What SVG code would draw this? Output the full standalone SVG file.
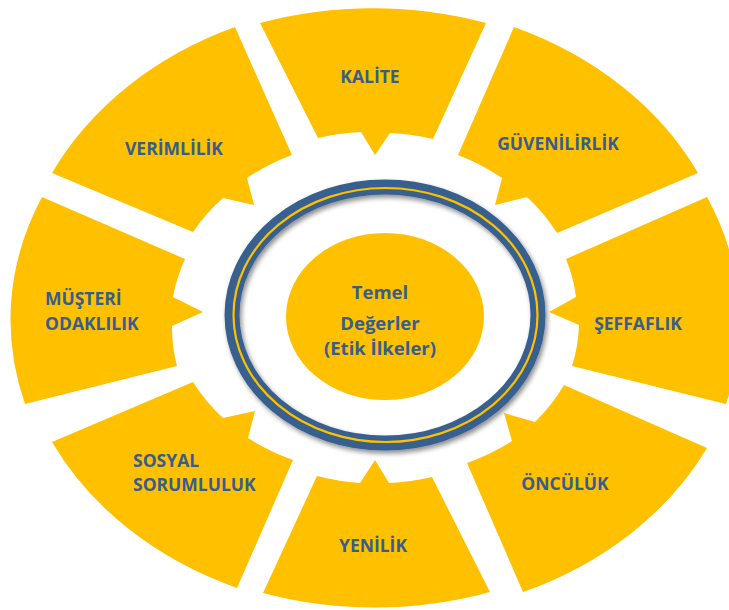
<svg xmlns="http://www.w3.org/2000/svg" width="729" height="610" viewBox="0 0 729 610">
  <defs>
    <style>
      .seg { fill: #FFC000; }
      .lbl { font-family: "Open Sans", "Noto Sans", "DejaVu Sans", sans-serif; font-weight: 700; font-size: 17.5px; fill: #385D8D; }
      .mid { text-anchor: middle; }
      .ctr { font-family: "Open Sans", "Noto Sans", "DejaVu Sans", sans-serif; font-weight: 700; font-size: 18.5px; fill: #385D8D; text-anchor: middle; }
    </style>
    <filter id="shadow" x="-20%" y="-20%" width="140%" height="140%">
      <feGaussianBlur in="SourceAlpha" stdDeviation="2.5"/>
      <feOffset dx="2" dy="3" result="b"/>
      <feComponentTransfer><feFuncA type="linear" slope="0.45"/></feComponentTransfer>
      <feMerge><feMergeNode/><feMergeNode in="SourceGraphic"/></feMerge>
    </filter>
  </defs>
  <rect width="729" height="610" fill="#FFFFFF"/>

  <g id="kalite">
    <path class="seg" d="M 260 23 A 365 302 0 0 1 486 23 L 433 139 A 205 174 0 0 0 390 133 L 375 155 L 361 132 A 205 174 0 0 0 318 138 Z"/>
    <text class="lbl mid" x="370" y="83">KALİTE</text>
  </g>
  <g id="guvenilirlik">
    <path class="seg" d="M 514 27 A 365 302 0 0 1 698 173 L 557 233 A 205 174 0 0 0 527 197 L 495 205 L 502 178 A 205 174 0 0 0 458 155 Z"/>
    <text class="lbl mid" x="558" y="150">GÜVENİLİRLİK</text>
  </g>
  <g id="seffaflik">
    <path class="seg" d="M 707 197 A 365 302 0 0 1 726 404 L 572 366 A 205 174 0 0 0 579 325 L 549 312 L 576 297 A 205 174 0 0 0 566 259 Z"/>
    <text class="lbl mid" x="638" y="330">ŞEFFAFLIK</text>
  </g>
  <g id="onculuk">
    <path class="seg" d="M 564 385 L 707 448 A 365 302 0 0 1 523 592 L 467 463 A 205 174 0 0 0 512 441 L 504 413 L 535 422 A 205 174 0 0 0 564 385 Z"/>
    <text class="lbl mid" x="565" y="490">ÖNCÜLÜK</text>
  </g>
  <g id="yenilik">
    <path class="seg" d="M 432 477 L 490 592 A 365 302 0 0 1 263 593 L 317 476 A 205 174 0 0 0 360 483 L 375 460 L 389 483 A 205 174 0 0 0 432 477 Z"/>
    <text class="lbl mid" x="373" y="552">YENİLİK</text>
  </g>
  <g id="sosyal-sorumluluk">
    <path class="seg" d="M 293 460 L 237 588 A 365 302 0 0 1 52 442 L 193 382 A 205 174 0 0 0 223 418 L 255 411 L 248 438 A 205 174 0 0 0 293 460 Z"/>
    <text class="lbl" x="133" y="467">SOSYAL</text>
    <text class="lbl" x="133" y="491">SORUMLULUK</text>
  </g>
  <g id="musteri-odaklilik">
    <path class="seg" d="M 177 366 L 25 404 A 365 302 0 0 1 42 197 L 185 259 A 205 174 0 0 0 173 297 L 203 312 L 172 326 A 205 174 0 0 0 177 366 Z"/>
    <text class="lbl" x="45" y="305">MÜŞTERİ</text>
    <text class="lbl" x="45" y="330">ODAKLILIK</text>
  </g>
  <g id="verimlilik">
    <path class="seg" d="M 193 232 L 52 173 A 365 302 0 0 1 235 27 L 292 155 A 205 174 0 0 0 247 178 L 254 205 L 223 198 A 205 174 0 0 0 193 232 Z"/>
    <text class="lbl mid" x="174" y="155">VERİMLİLİK</text>
  </g>

  <g id="ring" filter="url(#shadow)">
    <ellipse cx="385" cy="315" rx="153" ry="128" fill="none" stroke="#37608F" stroke-width="15"/>
    <ellipse cx="385.5" cy="315" rx="152" ry="127" fill="none" stroke="#FFC000" stroke-width="2.2"/>
  </g>

  <g id="temel-degerler">
    <ellipse cx="385" cy="316.5" rx="99" ry="83.5" fill="#FFC000"/>
    <text class="ctr" x="380" y="299">Temel</text>
    <text class="ctr" x="380" y="330">Değerler</text>
    <text class="ctr" x="380" y="355">(Etik İlkeler)</text>
  </g>
</svg>
